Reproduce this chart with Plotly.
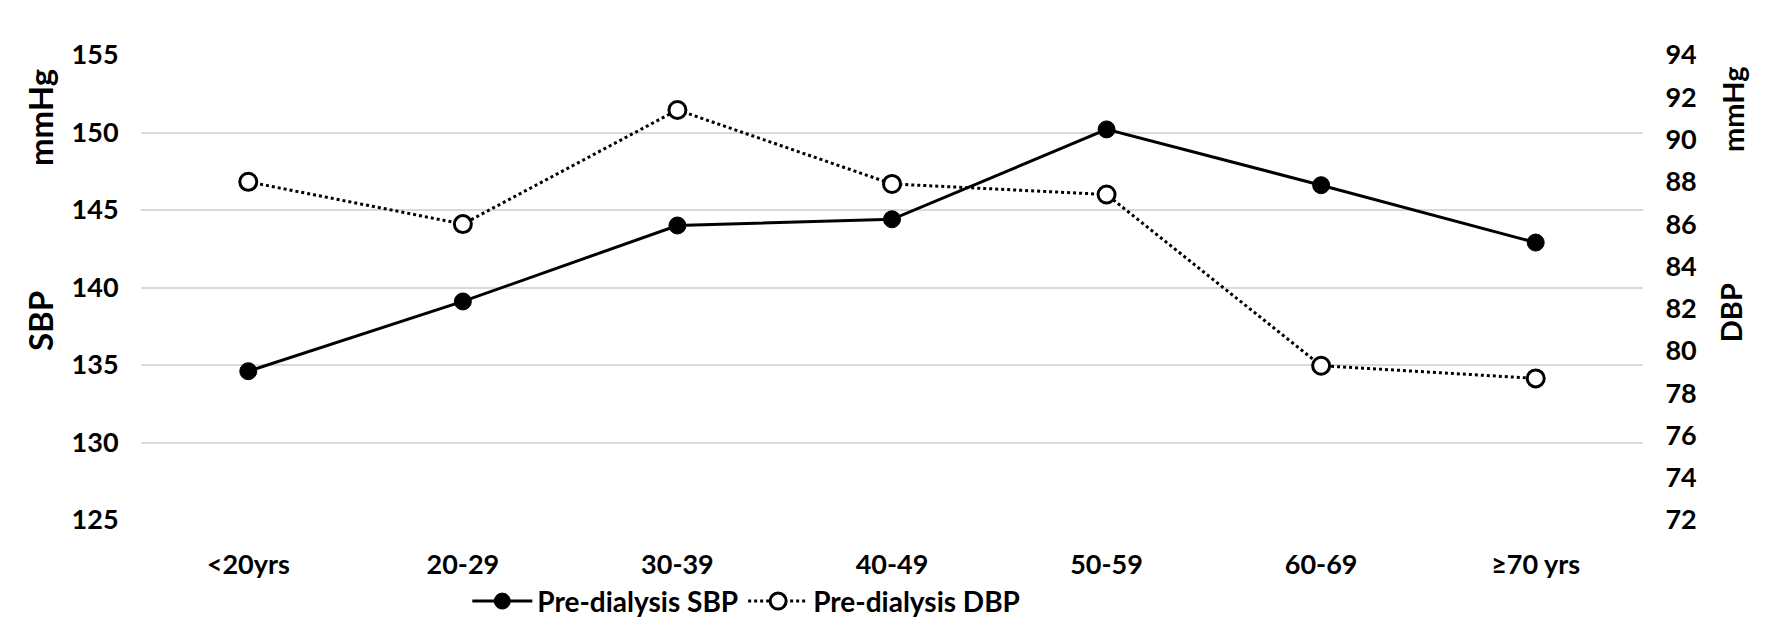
import plotly.graph_objects as go

categories = ["<20yrs", "20-29", "30-39", "40-49", "50-59", "60-69", "≥70 yrs"]
sbp_values = [134.6, 139.1, 144.0, 144.4, 150.2, 146.6, 142.9]
dbp_values = [88.0, 86.0, 91.4, 87.9, 87.4, 79.3, 78.7]
sbp_ticks = [125, 130, 135, 140, 145, 150, 155]
dbp_ticks = [72, 74, 76, 78, 80, 82, 84, 86, 88, 90, 92, 94]

FONT = "Lato"

fig = go.Figure()
fig.add_trace(go.Scatter(
    x=categories, y=sbp_values, name="Pre-dialysis SBP",
    mode="lines+markers",
    line=dict(color="black", width=3),
    marker=dict(symbol="circle", size=17, color="black", line=dict(color="black", width=1)),
    yaxis="y",
))
fig.add_trace(go.Scatter(
    x=categories, y=dbp_values, name="Pre-dialysis DBP",
    mode="lines+markers",
    line=dict(color="black", width=3, dash="dot"),
    marker=dict(symbol="circle", size=17, color="white", line=dict(color="black", width=3)),
    yaxis="y2",
))

fig.update_layout(
    width=1772, height=636,
    margin=dict(l=133, r=137, t=47, b=124),
    paper_bgcolor="white", plot_bgcolor="white",
    font=dict(family=FONT, size=26, color="black"),
    showlegend=True,
    legend=dict(
        orientation="h", x=0.403, y=-0.175, xanchor="center", yanchor="middle",
        font=dict(family=FONT, size=28, color="black", weight="bold"),
        itemwidth=60, bgcolor="rgba(0,0,0,0)",
    ),
    xaxis=dict(
        type="category", range=[-0.5, 6.5], showgrid=False, zeroline=False,
        showline=False, ticks="outside", ticklen=21, tickcolor="rgba(0,0,0,0)",
        tickfont=dict(family=FONT, size=27, color="black", weight="bold"),
    ),
    yaxis=dict(
        range=[125, 155], tickvals=sbp_ticks, showgrid=True, gridcolor="#d9d9d9",
        gridwidth=2, zeroline=False, showline=False, ticks="outside", ticklen=16,
        tickcolor="rgba(0,0,0,0)",
        tickfont=dict(family=FONT, size=27, color="black", weight="bold"),
    ),
    yaxis2=dict(
        range=[72, 94], tickvals=dbp_ticks, overlaying="y", side="right",
        showgrid=False, zeroline=False, showline=False, ticks="outside", ticklen=16,
        tickcolor="rgba(0,0,0,0)",
        tickfont=dict(family=FONT, size=27, color="black", weight="bold"),
    ),
)

title_font_l = dict(family=FONT, size=33, color="black", weight="bold")
title_font_r = dict(family=FONT, size=29, color="black", weight="bold")
fig.add_annotation(text="mmHg", xref="paper", yref="paper", x=-0.0672, y=0.8645,
                   textangle=-90, showarrow=False, font=title_font_l, xanchor="center", yanchor="middle")
fig.add_annotation(text="SBP", xref="paper", yref="paper", x=-0.0672, y=0.428,
                   textangle=-90, showarrow=False, font=title_font_l, xanchor="center", yanchor="middle")
fig.add_annotation(text="mmHg", xref="paper", yref="paper", x=1.06, y=0.882,
                   textangle=-90, showarrow=False, font=title_font_r, xanchor="center", yanchor="middle")
fig.add_annotation(text="DBP", xref="paper", yref="paper", x=1.058, y=0.445,
                   textangle=-90, showarrow=False, font=title_font_r, xanchor="center", yanchor="middle")

fig.write_html("out.html")
